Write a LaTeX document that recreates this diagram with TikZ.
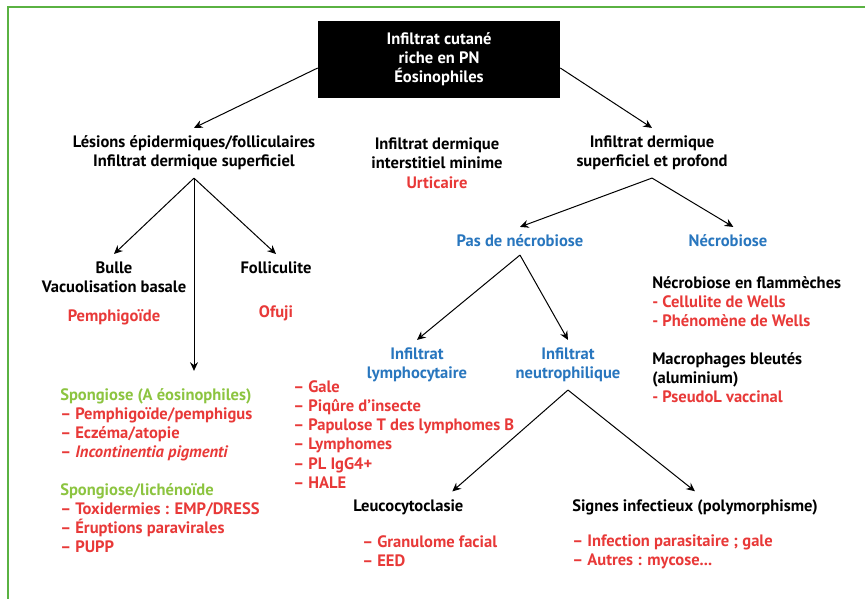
\documentclass[tikz,border=0pt]{standalone}
\usepackage{fontspec}
\setmainfont{PT Sans}
\usetikzlibrary{arrows.meta}
\definecolor{redtxt}{RGB}{232,57,56}
\definecolor{greentxt}{RGB}{140,196,64}
\definecolor{bluetxt}{RGB}{40,118,190}
\definecolor{frameg}{RGB}{90,178,66}

\begin{document}
\begin{tikzpicture}[x=0.75pt,y=-0.75pt,
    font=\bfseries\fontsize{12.4}{14.3}\selectfont,
    lbl/.style={align=center,inner sep=0pt,outer xsep=0pt,outer ysep=6pt},
    lst/.style={align=left,anchor=west,inner sep=0pt,outer ysep=6pt},
    >={Stealth[length=6.5pt,width=6pt,inset=2.2pt]},
    arr/.style={->,line width=0.75pt}]
   \useasboundingbox (0,0) rectangle (865,599);
   % frame
   \draw[frameg,line width=1.8pt] (865,7) -| (8,599);

   % top
   \node[fill=black,text=white,align=center,minimum width=181.5pt,minimum height=57.75pt] (root) at (439,59.5)
      {Infiltrat cutané\\riche en PN\\Éosinophiles};

   \node[lbl] (les) at (194,153) {Lésions épidermiques/folliculaires\\Infiltrat dermique superficiel};
   \node[lbl] (inter) at (437,153) {Infiltrat dermique\\interstitiel minime};
   \node[lbl,text=redtxt] (urt) at (437,183) {Urticaire};
   \node[lbl] (prof) at (652,153) {Infiltrat dermique\\superficiel et profond};

   \draw[arr] (root.184.5) -- (les.north);
   \draw[arr] (root.-4.5) -- (prof.north);

   % left branch
   \node[lbl] (bulle) at (114,277.5) {Bulle\\Vacuolisation basale};
   \node[lbl,text=redtxt] (pemph) at (114,317) {Pemphigoïde};
   \node[lbl] (foll) at (276,268) {Folliculite};
   \node[lbl,text=redtxt] (ofuji) at (276,313) {Ofuji};
   \node[lst,outer ysep=13pt] (spong) at (60,470.5) {%
      \textcolor{greentxt}{Spongiose (A éosinophiles)}\\
      \textcolor{redtxt}{– Pemphigoïde/pemphigus}\\
      \textcolor{redtxt}{– Eczéma/atopie}\\
      \textcolor{redtxt}{– \textit{Incontinentia pigmenti}}\\[14.3pt]
      \textcolor{greentxt}{Spongiose/lichénoïde}\\
      \textcolor{redtxt}{– Toxidermies : EMP/DRESS}\\
      \textcolor{redtxt}{– Éruptions paravirales}\\
      \textcolor{redtxt}{– PUPP}};

   \draw[arr] (les.south) -- (bulle.north);
   \draw[arr] (les.south) -- (les.south |- spong.north);
   \draw[arr] (les.south) -- (foll.north);

   % right branch
   \node[lbl,text=bluetxt] (pasnec) at (520,241) {Pas de nécrobiose};
   \node[lbl,text=bluetxt] (necro) at (728,241) {Nécrobiose};
   \node[lst] (necl) at (652,339.5) {%
      Nécrobiose en flammèches\\
      \textcolor{redtxt}{- Cellulite de Wells}\\
      \textcolor{redtxt}{- Phénomène de Wells}\\[14.3pt]
      Macrophages bleutés\\
      (aluminium)\\
      \textcolor{redtxt}{- PseudoL vaccinal}};

   \draw[arr] (prof.south) -- (pasnec.north);
   \draw[arr] (prof.south) -- ([xshift=4pt]necro.north);

   \node[lbl,text=bluetxt] (lymph) at (417,365) {Infiltrat\\lymphocytaire};
   \node[lbl,text=bluetxt] (neutro) at (568,365) {Infiltrat\\neutrophilique};
   \node[lst,text=redtxt] (gale) at (293,434.5) {%
      – Gale\\
      – Piqûre d’insecte\\
      – Papulose T des lymphomes B\\
      – Lymphomes\\
      – PL IgG4+\\
      – HALE};

   \draw[arr] (pasnec.south) -- (lymph.north);
   \draw[arr] (pasnec.south) -- (neutro.north);

   \node[lst] (leuco) at (353,507) {Leucocytoclasie};
   \node[lst,text=redtxt] (granl) at (362,551.5) {– Granulome facial\\– EED};
   \node[lst] (signes) at (572,507) {Signes infectieux (polymorphisme)};
   \node[lst,text=redtxt] (infl) at (572,551.5) {– Infection parasitaire ; gale\\– Autres : mycose...};

   \draw[arr] (neutro.south) -- ([xshift=33pt]leuco.north);
   \draw[arr] (neutro.south) -- (signes.north);
\end{tikzpicture}
\end{document}
